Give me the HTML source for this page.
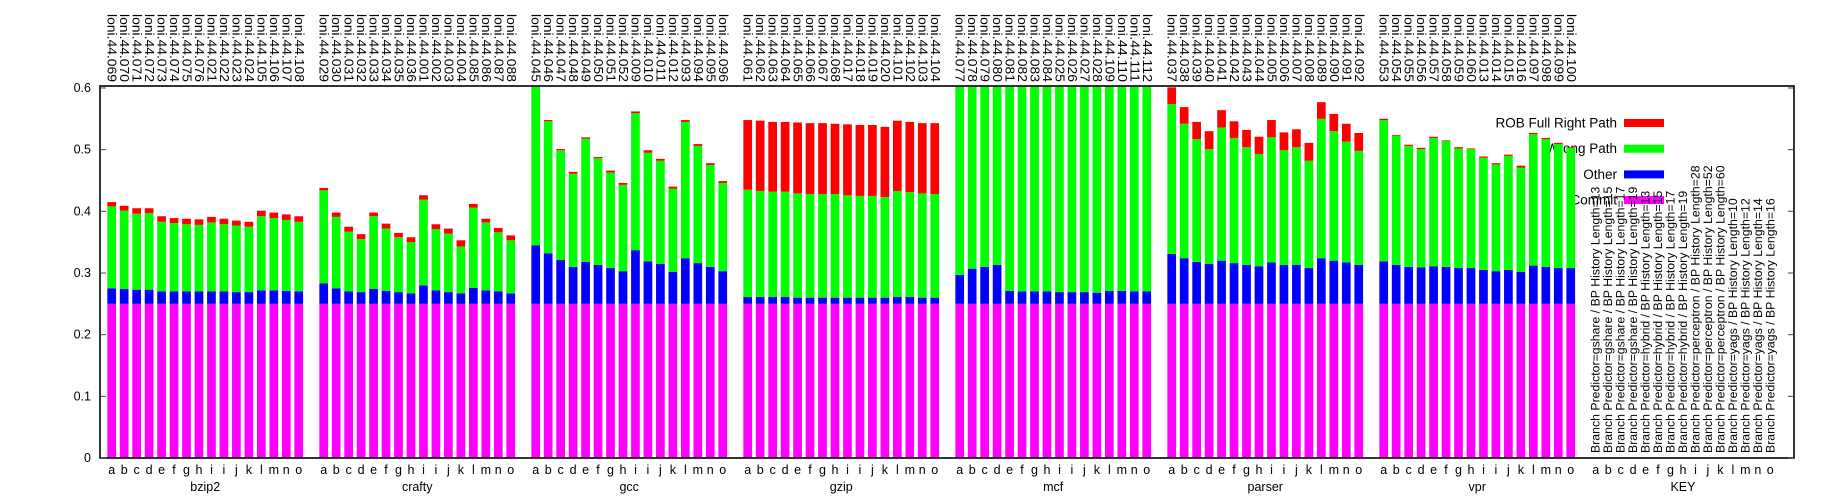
<!DOCTYPE html>
<html><head><meta charset="utf-8"><style>
html,body{margin:0;padding:0;background:#fff}
svg{display:block;font-family:"Liberation Sans",sans-serif}
</style></head><body>
<svg id="chart" width="1826" height="500" viewBox="0 0 1826 500" xmlns="http://www.w3.org/2000/svg">
<defs><clipPath id="plotclip"><rect x="100" y="86" width="1694" height="372"/></clipPath></defs>
<g id="legend"></g>
<g id="keylabels"></g>
<g id="bars" clip-path="url(#plotclip)"></g>
<g id="axes"></g>
</svg>
<script>
const groups = ["bzip2","crafty","gcc","gzip","mcf","parser","vpr"];
const barLetters = ["a","b","c","d","e","f","g","h","i","i","j","k","l","m","n","o"];
const keyLetters = ["a","b","c","d","e","f","g","h","i","j","k","l","m","n","o"];
const runIds = [
 ["069","070","071","072","073","074","075","076","021","022","023","024","105","106","107","108"],
 ["029","030","031","032","033","034","035","036","001","002","003","004","085","086","087","088"],
 ["045","046","047","048","049","050","051","052","009","010","011","012","093","094","095","096"],
 ["061","062","063","064","065","066","067","068","017","018","019","020","101","102","103","104"],
 ["077","078","079","080","081","082","083","084","025","026","027","028","109","110","111","112"],
 ["037","038","039","040","041","042","043","044","005","006","007","008","089","090","091","092"],
 ["053","054","055","056","057","058","059","060","013","014","015","016","097","098","099","100"]
];
const commit = [
 [.25,.25,.25,.25,.25,.25,.25,.25,.25,.25,.25,.25,.25,.25,.25,.25],
 [.25,.25,.25,.25,.25,.25,.25,.25,.25,.25,.25,.25,.25,.25,.25,.25],
 [.25,.25,.25,.25,.25,.25,.25,.25,.25,.25,.25,.25,.25,.25,.25,.25],
 [.25,.25,.25,.25,.25,.25,.25,.25,.25,.25,.25,.25,.25,.25,.25,.25],
 [.25,.25,.25,.25,.25,.25,.25,.25,.25,.25,.25,.25,.25,.25,.25,.25],
 [.25,.25,.25,.25,.25,.25,.25,.25,.25,.25,.25,.25,.25,.25,.25,.25],
 [.25,.25,.25,.25,.25,.25,.25,.25,.25,.25,.25,.25,.25,.25,.25,.25]
];
const other = [
 [.025,.024,.023,.023,.020,.020,.020,.020,.020,.020,.019,.019,.022,.022,.021,.020],
 [.033,.025,.020,.019,.024,.021,.019,.017,.030,.022,.019,.017,.026,.022,.020,.017],
 [.095,.082,.071,.060,.068,.063,.058,.053,.087,.069,.065,.052,.074,.066,.060,.053],
 [.011,.011,.011,.011,.010,.010,.010,.010,.010,.010,.010,.010,.011,.011,.010,.010],
 [.047,.057,.060,.063,.021,.020,.020,.020,.019,.019,.019,.018,.021,.021,.020,.020],
 [.081,.074,.068,.065,.070,.066,.063,.061,.067,.063,.063,.058,.074,.070,.067,.063],
 [.069,.063,.060,.059,.061,.060,.058,.058,.055,.053,.055,.052,.062,.060,.058,.058]
];
const wrongPath = [
 [.133,.127,.123,.124,.113,.111,.109,.108,.112,.109,.108,.106,.120,.117,.115,.113],
 [.151,.116,.097,.086,.118,.101,.089,.083,.139,.099,.095,.076,.130,.110,.096,.086],
 [.265,.214,.178,.151,.200,.173,.155,.140,.222,.176,.167,.135,.221,.190,.165,.143],
 [.174,.172,.171,.171,.169,.168,.168,.168,.166,.165,.165,.163,.172,.170,.169,.168],
 [.353,.343,.340,.337,.379,.380,.380,.380,.381,.381,.381,.382,.379,.379,.380,.380],
 [.243,.218,.199,.186,.216,.203,.191,.182,.203,.186,.191,.174,.226,.210,.196,.185],
 [.229,.210,.196,.192,.208,.204,.194,.193,.182,.173,.185,.169,.213,.207,.201,.195]
];
const robFull = [
 [.007,.008,.009,.008,.009,.008,.009,.009,.009,.009,.008,.008,.009,.009,.009,.009],
 [.004,.007,.008,.008,.006,.008,.007,.008,.007,.008,.008,.010,.006,.006,.007,.008],
 [0,.002,.002,.003,.002,.002,.003,.003,.003,.004,.003,.003,.003,.003,.003,.003],
 [.113,.114,.113,.113,.115,.115,.115,.114,.115,.115,.115,.114,.114,.114,.114,.115],
 [0,0,0,0,0,0,0,0,0,0,0,0,0,0,0,0],
 [.027,.027,.028,.029,.028,.027,.028,.028,.028,.029,.029,.029,.027,.028,.029,.029],
 [.002,.001,.002,.002,.002,.001,.002,.001,.002,.002,.002,.003,.002,.002,.002,.001]
];
const keyEntries = [
 "Branch Predictor=gshare / BP History Length=13","Branch Predictor=gshare / BP History Length=15",
 "Branch Predictor=gshare / BP History Length=17","Branch Predictor=gshare / BP History Length=19",
 "Branch Predictor=hybrid / BP History Length=13","Branch Predictor=hybrid / BP History Length=15",
 "Branch Predictor=hybrid / BP History Length=17","Branch Predictor=hybrid / BP History Length=19",
 "Branch Predictor=perceptron / BP History Length=28","Branch Predictor=perceptron / BP History Length=52",
 "Branch Predictor=perceptron / BP History Length=60","Branch Predictor=yags / BP History Length=10",
 "Branch Predictor=yags / BP History Length=12","Branch Predictor=yags / BP History Length=14",
 "Branch Predictor=yags / BP History Length=16"
];
const yTicks = [0,0.1,0.2,0.3,0.4,0.5,0.6];
const yTickLabels = ["0","0.1","0.2","0.3","0.4","0.5","0.6"];
const seriesNames = ["ROB Full Right Path","Wrong Path","Other","Commit"];
const seriesColors = ["#ff0000","#00ff00","#0000ff","#ff00ff"];

const NS="http://www.w3.org/2000/svg";
const X0=100, X1=1794, Y0=458, Y1=86;
const yScale = v => Y0 - v*616.7;
const PITCH=12.47, GPITCH=212, FIRST=111.7, BW=8.7;
const xCenter = (g,i) => FIRST + g*GPITCH + i*PITCH;
function mk(tag, attrs, parent){const e=document.createElementNS(NS,tag);for(const k in attrs)e.setAttribute(k,attrs[k]);parent.appendChild(e);return e;}

const barsG=document.getElementById('bars'), axesG=document.getElementById('axes'),
      legG=document.getElementById('legend'), keyG=document.getElementById('keylabels');

// legend
seriesNames.forEach((n,k)=>{
  const cy=123+k*25.7;
  const t=mk('text',{x:1617,y:cy,'text-anchor':'end','dominant-baseline':'central','font-size':13.5,fill:'#000'},legG);
  t.textContent=n;
  
  
  const r=mk('rect',{x:1624,y:cy-4,width:40,height:8,fill:seriesColors[k]},legG);
  
  
});
// key labels
keyEntries.forEach((s,i)=>{
  const x=xCenter(7,i);
  const t=mk('text',{x:x,y:453,transform:`rotate(-90 ${x} 453)`,'dominant-baseline':'central','font-size':12.3,fill:'#000'},keyG);
  t.textContent=s;
  
  
});
// bars
groups.forEach((gn,g)=>{
  barLetters.forEach((l,i)=>{
    const xc=xCenter(g,i);
    let base=0;
    const segs=[[commit[g][i],'#ff00ff','commit'],[other[g][i],'#0000ff','other'],[wrongPath[g][i],'#00ff00','wrong-path'],[robFull[g][i],'#ff0000','rob-full']];
    segs.forEach(([v,c,nm])=>{
      if(v<=0) return;
      const yt=yScale(base+v), yb=yScale(base);
      const r=mk('rect',{x:xc-BW/2,y:yt,width:BW,height:yb-yt,fill:c},barsG);
      
      
      base+=v;
    });
  });
});
// frame
const fr=mk('rect',{x:X0,y:Y1,width:X1-X0,height:Y0-Y1,fill:'none',stroke:'#000','stroke-width':1.6},axesG);


yTicks.forEach((v,k)=>{
  const y=yScale(v);
  const t1=mk('line',{x1:X0,x2:X0+6,y1:y,y2:y,stroke:'#444','stroke-width':1},axesG);
  
  
  const t2=mk('line',{x1:X1-6,x2:X1,y1:y,y2:y,stroke:'#444','stroke-width':1},axesG);
  
  
  const tl=mk('text',{x:91,y:y,'text-anchor':'end','dominant-baseline':'central','font-size':12.5,fill:'#000'},axesG);
  tl.textContent=yTickLabels[k];
  
  
});
// x labels
const allGroups=groups.concat(["KEY"]);
allGroups.forEach((gn,g)=>{
  const letters = g<groups.length ? barLetters : keyLetters;
  letters.forEach((l,i)=>{
    const t=mk('text',{x:xCenter(g,i),y:474,'text-anchor':'middle','font-size':12.5,fill:'#000'},axesG);
    t.textContent=l;
    
    
  });
  const gc=xCenter(g,(letters.length-1)/2);
  const gt=mk('text',{x:gc,y:491,'text-anchor':'middle','font-size':12.5,fill:'#000'},axesG);
  gt.textContent=gn;
  
  
  if(g<groups.length){
    runIds[g].forEach((id,i)=>{
      const x=xCenter(g,i);
      const t=mk('text',{x:x,y:14,transform:`rotate(90 ${x} 14)`,'dominant-baseline':'central','font-size':12.5,textLength:68,lengthAdjust:'spacingAndGlyphs',fill:'#000'},axesG);
      t.textContent='loni.44.'+id;
      
      
    });
  }
});
</script>
</body></html>
